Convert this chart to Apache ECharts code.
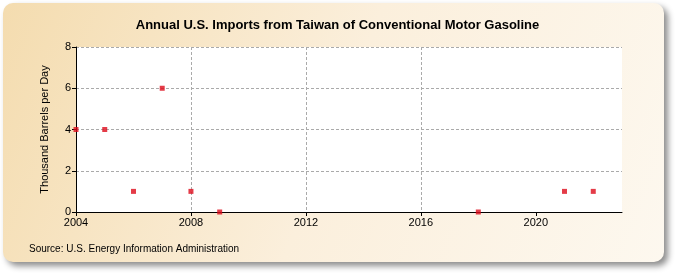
<!DOCTYPE html>
<html><head><meta charset="utf-8">
<script src="https://cdn.jsdelivr.net/npm/echarts@6/dist/echarts.min.js"></script>
<style>html,body{margin:0;padding:0;background:#fff}#c{width:675px;height:275px}</style>
</head><body><div id="c"></div>
<script>
var years = [2004, 2005, 2006, 2007, 2008, 2009, 2018, 2021, 2022];
var values = [4, 4, 1, 6, 1, 0, 0, 1, 1];
var xTicks = [2004, 2008, 2012, 2016, 2020];
var yTicks = [0, 2, 4, 6, 8];

var chart = echarts.init(document.getElementById('c'), null, {renderer: 'canvas'});
var pts = years.map(function (y, i) { return [y, values[i]]; });
chart.setOption({
  animation: false,
  graphic: [{
    type: 'rect', z: -10, silent: true,
    shape: {x: 3, y: 3, width: 661, height: 259, r: 10},
    style: {
      fill: new echarts.graphic.LinearGradient(0, 0, 1, 1, [
        {offset: 0, color: '#f4dcaf'}, {offset: 0.5, color: '#fbefdc'}, {offset: 1, color: '#fdf8ef'}
      ]),
      shadowBlur: 6, shadowOffsetX: 4, shadowOffsetY: 4, shadowColor: 'rgba(0,0,0,0.45)'
    }
  }, {
    type: 'text', left: 'center', top: 19,
    style: {text: 'Annual U.S. Imports from Taiwan of Conventional Motor Gasoline',
      font: 'bold 13px "Liberation Sans", Arial, sans-serif', fill: '#000'}
  }, {
    type: 'text', left: 29, top: 244,
    style: {text: 'Source: U.S. Energy Information Administration',
      font: '10px "Liberation Sans", Arial, sans-serif', fill: '#000'}
  }],
  grid: {left: 76, top: 47, width: 546, height: 165, show: true, backgroundColor: '#fff', borderWidth: 0},
  xAxis: {
    type: 'value', min: 2004, max: 2023, interval: 4,
    axisLine: {show: true, lineStyle: {color: '#000', width: 1}},
    axisTick: {show: true, length: 4, lineStyle: {color: '#000'}, customValues: xTicks},
    axisLabel: {color: '#000', fontSize: 11, fontFamily: '"Liberation Sans", Arial, sans-serif', margin: 5,
      customValues: xTicks, formatter: function (v) { return String(v); }},
    splitLine: {show: true, showMinLine: false, showMaxLine: false, lineStyle: {color: '#aaa', type: [3, 2], width: 1}}
  },
  yAxis: {
    type: 'value', min: 0, max: 8, interval: 2,
    name: 'Thousand Barrels per Day', nameLocation: 'middle', nameGap: 26, nameRotate: 90,
    nameTextStyle: {color: '#000', fontSize: 11, fontFamily: '"Liberation Sans", Arial, sans-serif'},
    axisLine: {show: true, lineStyle: {color: '#000', width: 1}},
    axisTick: {show: true, length: 4, lineStyle: {color: '#000'}},
    axisLabel: {color: '#000', fontSize: 11, fontFamily: '"Liberation Sans", Arial, sans-serif', margin: 5},
    splitLine: {show: true, showMinLine: false, lineStyle: {color: '#aaa', type: [3, 2], width: 1}}
  },
  series: [{
    type: 'scatter', data: pts, symbol: 'rect', symbolSize: 5,
    itemStyle: {color: '#dd0a1a'}, clip: false, z: 1
  }]
});
</script></body></html>
